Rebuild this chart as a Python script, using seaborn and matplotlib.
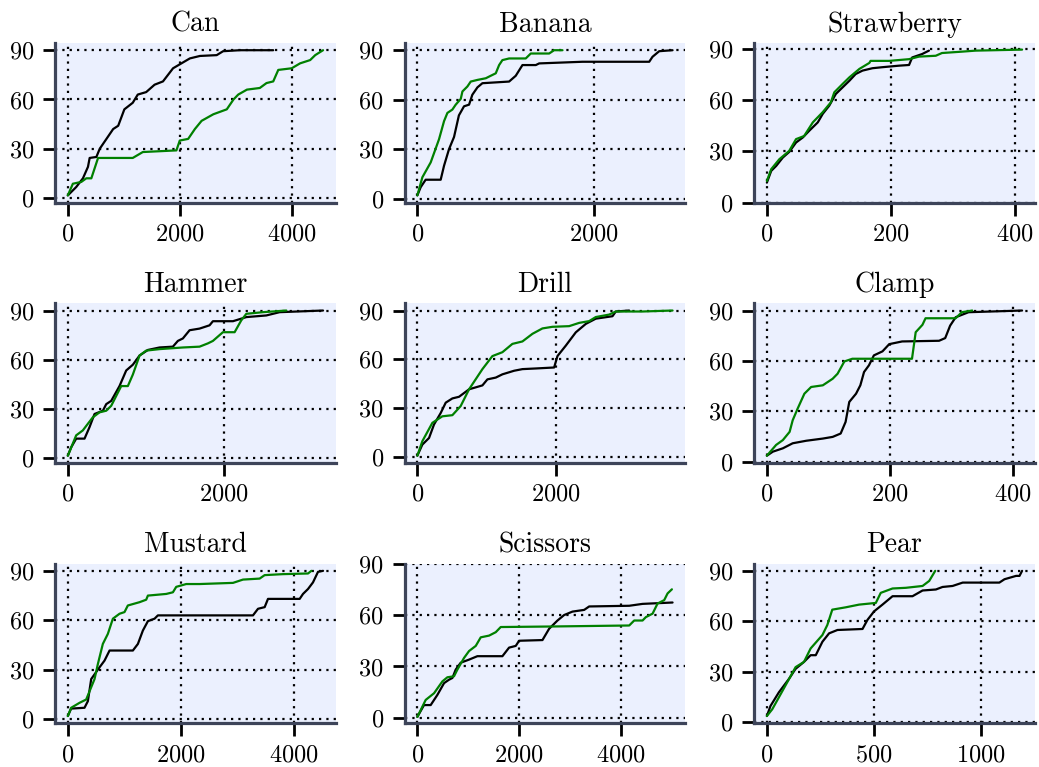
# Recreate the 3x3 grid of cumulative curves (black vs green)

import matplotlib
matplotlib.use("Agg")
import matplotlib.pyplot as plt
from matplotlib.ticker import MultipleLocator
import seaborn as sns

# -------------------------------------------------------
# DATA
# -------------------------------------------------------

titles = ["Can", "Banana", "Strawberry", "Hammer", "Drill", "Clamp",
          "Mustard", "Scissors", "Pear"]

can_x_black = [0, 150, 270, 360, 390, 510, 570, 690, 810, 900, 1010, 1160, 1250, 1400, 1550,
               1700, 1880, 2030, 2180, 2360, 2660, 2775, 3075, 3670]
can_y_black = [1.6, 6.7, 12, 19, 24.4, 25, 30, 36, 42, 44, 54, 58, 63, 64.5, 69,
               71, 79, 82, 85, 86.5, 87, 89.4, 90, 90]
can_x_green = [0, 90, 240, 330, 420, 540, 1160, 1340, 1940, 2000, 2150, 2270, 2390, 2600,
               2840, 2960, 3045, 3200, 3430, 3550, 3670, 3760, 4000, 4150, 4330, 4420, 4560]
can_y_green = [1.6, 8.7, 9.8, 12, 12, 24.4, 24.4, 28, 29, 35, 36, 42, 47, 51,
               54, 60, 63, 66, 67, 70, 71, 78, 79, 82, 84, 87, 90]

banana_x_black = [0, 38, 94, 264, 302, 358, 415, 470, 528, 585, 622, 680, 736, 1038, 1113,
                  1189, 1340, 1378, 1868, 2623, 2660, 2736, 2887]
banana_y_black = [2, 7, 11.5, 11.5, 20, 30, 37.4, 50.5, 56, 57, 63, 67.5, 70, 71, 74.5,
                  81, 81, 82, 83, 83, 86, 89.4, 90]
banana_x_green = [0, 57, 151, 245, 302, 340, 396, 434, 491, 510, 566, 604, 680, 774, 830,
                  887, 925, 962, 1038, 1226, 1283, 1491, 1547, 1642]
banana_y_green = [2, 13, 22, 36, 47, 52, 54, 57, 60.5, 65, 68, 71, 72, 73, 74.5,
                  76, 81, 84, 85, 85, 88, 88, 90, 90]

straw_x_black = [0, 7, 15, 25.7, 36, 47, 58, 68, 82, 90, 100.5, 111, 122, 133, 143,
                 154, 170, 186, 213, 229, 234, 250, 261]
straw_y_black = [11.7, 18.6, 21.5, 26.4, 29.7, 35.2, 38.2, 42, 47, 52, 56.8, 63.6, 67.5, 71.4, 75.3,
                 77.3, 78.7, 79.3, 80.2, 80.6, 85, 87, 89]
straw_x_green = [0, 7, 20, 36, 47, 60, 74, 90, 103, 108.6, 122, 133, 149, 165, 167,
                 197, 229, 245, 272, 282, 314, 336, 411]
straw_y_green = [12.7, 19.6, 25.4, 30.3, 37.2, 39, 47, 53, 58.7, 64.6, 69.5, 73.4, 78.3, 81.8, 83,
                 83, 84, 85.5, 86, 87.6, 88.4, 89, 89.6]

hammer_x_black = [0, 43, 107, 214, 278, 342, 449, 492, 556, 662, 748, 833, 919, 1026, 1175,
                  1346, 1410, 1474, 1560, 1688, 1816, 1859, 2116, 2287, 2543, 2714, 3270]
hammer_y_black = [1.6, 6.7, 12, 12, 19, 27, 29, 33, 35, 44, 53.5, 57, 62.6, 66, 67.5,
                  68, 71.5, 73, 78, 79, 81, 83.5, 83.5, 86, 87, 89, 90]
hammer_x_green = [0, 107, 192, 256, 321, 406, 492, 556, 684, 769, 833, 919, 1004, 1175, 1474,
                  1688, 1795, 1859, 1987, 2137, 2222, 2287, 2500, 2800]
hammer_y_green = [1.6, 14, 17, 21, 25, 28, 29, 32, 44, 44, 51, 62.6, 65.6, 66.5, 67.5,
                  68, 70, 71.5, 76.8, 76.8, 84, 88, 89, 90]

drill_x_black = [0, 72, 169, 241, 337, 410, 506, 602, 747, 940, 1012, 1133, 1229, 1398, 1518,
                 1711, 1976, 2024, 2144, 2289, 2434, 2578, 2819, 2867, 3060]
drill_y_black = [0.8, 7.6, 11.7, 20, 27, 33.4, 36, 37, 41.6, 44, 47.7, 48.8, 50.8, 53, 54,
                 54.4, 55, 62, 68.4, 76.6, 81.8, 85, 86.5, 89.4, 90]
drill_x_green = [0, 72, 217, 361, 506, 626, 747, 940, 1084, 1229, 1373, 1518, 1663, 1807, 1952,
                 2193, 2337, 2482, 2578, 2771, 2867, 3253, 3687]
drill_y_green = [0.8, 9.7, 21, 25, 25.7, 31.3, 41.6, 54, 62, 64.4, 69.5, 71, 75.7, 79, 80,
                 80.4, 82.4, 83.5, 86, 87.5, 89.4, 89.4, 90]

clamp_x_black = [0, 9.7, 26, 42, 64, 91, 107, 120, 128, 134, 145, 152, 158, 166, 174,
                 188, 199, 220, 280, 290, 298, 307, 328, 415]
clamp_y_black = [3.6, 6, 8, 11, 12.5, 13.8, 14.8, 16.8, 23.7, 35.6, 40.5, 45.5, 53.4, 57.4, 63.3,
                 65.7, 70, 71.6, 72, 73.6, 81, 86, 89, 90]
clamp_x_green = [0, 15, 26, 37, 42, 50, 61, 72, 91, 107, 115, 126, 139, 236, 242,
                 253, 258, 307, 317, 334]
clamp_y_green = [3.6, 10, 12.9, 17.8, 24.7, 31.6, 40.5, 44.5, 45.5, 49.4, 52.4, 59.7, 61.3, 61.3, 77.1,
                 81.5, 85.4, 85.4, 89, 90]

mustard_x_black = [0, 59, 295, 355, 414, 561, 650, 739, 1152, 1241, 1329, 1418, 1536, 1595, 3279,
                   3368, 3486, 3545, 4106, 4165, 4254, 4342, 4431, 4520]
mustard_y_black = [2, 6.5, 7, 11, 24.4, 31.5, 35.6, 41.7, 41.7, 45.7, 53.8, 59.5, 61, 63, 63,
                   67, 68, 73, 73, 76, 79, 83, 89.4, 90]
mustard_x_green = [0, 59, 207, 325, 473, 532, 620, 709, 798, 916, 1004, 1063, 1270, 1388, 1418,
                   1743, 1861, 1920, 2097, 2334, 2925, 3102, 3397, 3486, 3811, 4254, 4313]
mustard_y_green = [2, 7, 10, 12, 24.4, 33.5, 45.7, 51.8, 61, 64, 65, 69, 71, 72.5, 75,
                   76, 77, 80.3, 82, 82, 82.7, 84.7, 85.3, 87.4, 88, 88.4, 90]

scissors_x_black = [0, 131, 262, 393, 525, 623, 689, 754, 852, 1016, 1180, 1672, 1803, 1934, 2000,
                    2459, 2590, 2754, 2885, 3049, 3279, 3377, 4164, 4426, 5016]
scissors_y_black = [0.6, 7.5, 7.5, 13.4, 20.3, 22.3, 23.3, 28.2, 32.2, 34, 36, 36, 41, 42, 45,
                    45.4, 52, 56.8, 60, 62, 63, 65, 65.4, 66.5, 67.3]
scissors_x_green = [0, 164, 328, 492, 590, 721, 787, 918, 1016, 1148, 1246, 1410, 1541, 1639, 2590,
                    4164, 4262, 4426, 4492, 4623, 4721, 4852, 4918, 5003]
scissors_y_green = [0.6, 10.5, 14.4, 21.3, 23.7, 24.3, 28.2, 35, 39, 42, 47, 48, 50, 53, 53.3,
                    53.9, 56.8, 56.8, 58.8, 60.8, 66.7, 68.7, 72.6, 75]

pear_x_black = [0, 17, 56, 103, 134, 173, 204, 228, 259, 290, 329, 446, 469, 500, 539,
                586, 679, 726, 788, 819, 866, 913, 1084, 1108, 1162, 1178, 1190]
pear_y_black = [3.6, 9.6, 17.7, 25.7, 31.7, 35.8, 39.8, 39.8, 47.8, 52.8, 54.8, 55.4, 60.8, 65.9, 69.9,
                74.9, 74.9, 78.3, 78.9, 80.4, 81, 83, 83, 85, 87, 87, 90]
pear_x_green = [0, 25, 56, 95, 134, 173, 204, 259, 282, 305, 368, 430, 508, 531, 586,
                648, 726, 757, 785]
pear_y_green = [3.6, 7.6, 14.7, 23.7, 32.7, 35.8, 43.8, 51.8, 57.8, 66.9, 68.3, 69.9, 70.9, 76.9, 79.5,
                79.9, 81, 84, 90]

black_series = [(can_x_black, can_y_black), (banana_x_black, banana_y_black),
                (straw_x_black, straw_y_black), (hammer_x_black, hammer_y_black),
                (drill_x_black, drill_y_black), (clamp_x_black, clamp_y_black),
                (mustard_x_black, mustard_y_black), (scissors_x_black, scissors_y_black),
                (pear_x_black, pear_y_black)]
green_series = [(can_x_green, can_y_green), (banana_x_green, banana_y_green),
                (straw_x_green, straw_y_green), (hammer_x_green, hammer_y_green),
                (drill_x_green, drill_y_green), (clamp_x_green, clamp_y_green),
                (mustard_x_green, mustard_y_green), (scissors_x_green, scissors_y_green),
                (pear_x_green, pear_y_green)]

y_ticks = [0, 30, 60, 90]
x_steps = [2000, 2000, 200, 2000, 2000, 200, 2000, 2000, 500]

# -------------------------------------------------------
# STYLE
# -------------------------------------------------------

sns.set_style("ticks", rc={
    "axes.facecolor": "#ebf0fe",
    "axes.edgecolor": "#3d4459",
    "xtick.color": "black",
    "ytick.color": "black",
    "text.color": "black",
})
# size params live outside seaborn's style keys, so set them directly
plt.rcParams.update({
    "axes.linewidth": 2.3,
    "xtick.major.size": 9,
    "ytick.major.size": 9,
    "xtick.major.width": 2.0,
    "ytick.major.width": 2.0,
    "font.family": ["cmr10", "DejaVu Serif"],
    "mathtext.fontset": "cm",
    "axes.formatter.use_mathtext": True,
})

# -------------------------------------------------------
# PLOT
# -------------------------------------------------------

fig, axes = plt.subplots(3, 3, figsize=(10.39, 7.67), dpi=100)
fig.subplots_adjust(left=0.053, right=0.996, top=0.944, bottom=0.057,
                    wspace=0.245, hspace=0.63)

for i, ax in enumerate(axes.flat):
    bx, by = black_series[i]
    gx, gy = green_series[i]
    sns.lineplot(x=bx, y=by, ax=ax, color="black", lw=1.6, estimator=None,
                 sort=False, legend=False)
    sns.lineplot(x=gx, y=gy, ax=ax, color="green", lw=1.6, estimator=None,
                 sort=False, legend=False)

    ax.set_yticks(y_ticks)
    ax.xaxis.set_major_locator(MultipleLocator(x_steps[i]))
    ax.grid(True, color="black", linestyle=(0, (1, 2.3)), linewidth=1.6)
    ax.set_axisbelow(True)
    ax.tick_params(labelsize=17.5, pad=6, colors="black")
    ax.set_title(titles[i], fontsize=20, pad=8, color="black")
    sns.despine(ax=ax)

fig.savefig("out.png", dpi=100)
